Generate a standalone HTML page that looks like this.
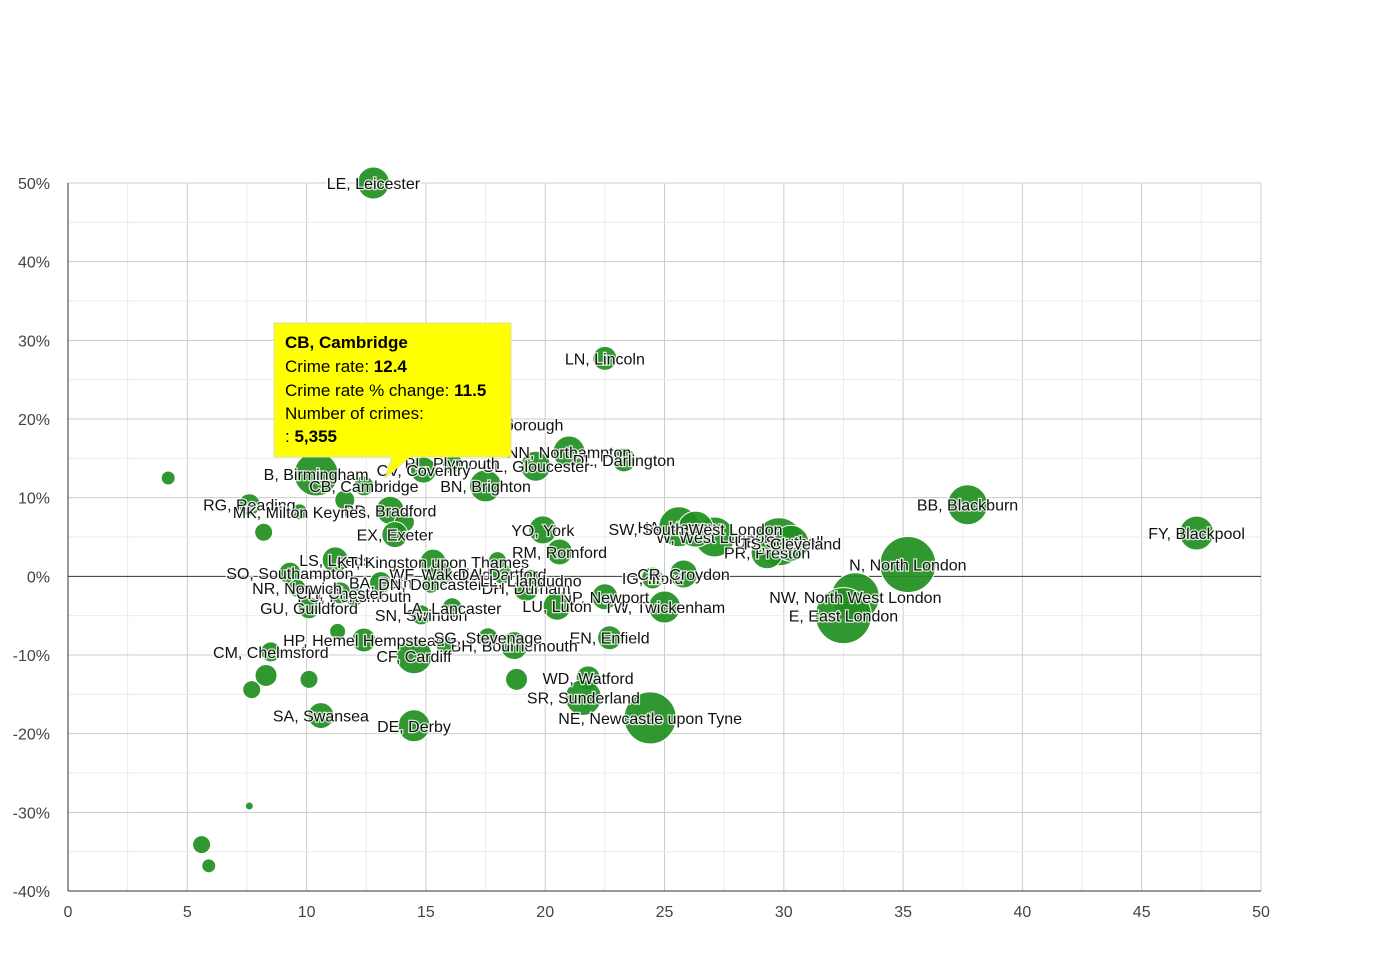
<!DOCTYPE html>
<html><head><meta charset="utf-8"><style>
html,body{margin:0;padding:0;background:#fff;}
svg{display:block;font-family:"Liberation Sans",Arial,sans-serif;}
</style></head><body>
<svg id="chart" width="1390" height="980" xmlns="http://www.w3.org/2000/svg">
<g id="grid"></g>
<g id="axes"></g>
<g id="bubbles"></g>
<g id="labels"></g>
<g id="tooltip">
<path d="M274,323 H511 V457 H410 L385,478 L392,457 H274 Z" fill="#ffff00" stroke="#e0e0a0" stroke-width="1"/>
<text x="285" y="348" font-size="17" font-weight="bold">CB, Cambridge</text>
<text x="285" y="372" font-size="17">Crime rate: <tspan font-weight="bold">12.4</tspan></text>
<text x="285" y="396" font-size="17">Crime rate % change: <tspan font-weight="bold">11.5</tspan></text>
<text x="285" y="419" font-size="17">Number of crimes:</text>
<text x="285" y="442" font-size="17">: <tspan font-weight="bold">5,355</tspan></text>
</g>
</svg>
<script>
const labels=["LE, Leicester","LN, Lincoln","PE, Peterborough","NN, Northampton","DL, Darlington","GL, Gloucester","BN, Brighton","PL, Plymouth","CV, Coventry","B, Birmingham","CB, Cambridge","RG, Reading","","BD, Bradford","MK, Milton Keynes","","","EX, Exeter","","YO, York","RM, Romford","HA, Harrow","W, West London","SW, South West London","UB, Southall","PR, Preston","N, North London","BB, Blackburn","FY, Blackpool","NW, North West London","E, East London","IG, Ilford","CR, Croydon","TW, Twickenham","NP, Newport","EN, Enfield","WD, Watford","SR, Sunderland","NE, Newcastle upon Tyne","","BH, Bournemouth","DE, Derby","SA, Swansea","CF, Cardiff","CM, Chelmsford","","","","","","","HP, Hemel Hempstead","","","SG, Stevenage","GU, Guildford","SO, Southampton","LS, Leeds","KT, Kingston upon Thames","SN, Swindon","LA, Lancaster","DH, Durham","LU, Luton","BA, Bath","WF, Wakefield","PO, Portsmouth","CH, Chester","DN, Doncaster","DA, Dartford","LL, Llandudno","","TS, Cleveland","NR, Norwich"];
const crimeRate=[12.8,22.5,18.1,21.0,23.3,19.6,17.5,16.1,14.9,10.4,12.4,7.6,4.2,13.5,9.7,11.6,14.1,13.7,8.2,19.9,20.6,25.6,27.1,26.3,29.8,29.3,35.2,37.7,47.3,33.0,32.5,24.5,25.8,25.0,22.5,22.7,21.8,21.6,24.4,18.8,18.7,14.5,10.6,14.5,8.5,8.3,7.7,10.1,7.6,5.6,5.9,12.4,11.3,15.8,17.6,10.1,9.3,11.2,15.3,14.8,16.1,19.2,20.5,13.1,15.6,12.0,11.4,15.2,18.2,19.4,18.0,30.3,9.6];
const pctChange=[50,27.7,19.3,15.8,14.8,14.0,11.5,14.4,13.5,13.0,11.5,9.1,12.5,8.4,8.2,9.7,6.9,5.3,5.6,5.9,3.1,6.3,5.0,6.0,4.4,3.0,1.5,9.1,5.5,-2.6,-5.0,-0.2,0.3,-3.9,-2.6,-7.8,-12.9,-15.4,-18.0,-13.1,-8.8,-19.0,-17.7,-10.1,-9.6,-12.6,-14.4,-13.1,-29.2,-34.1,-36.8,-8.1,-7.0,-8.7,-7.8,-4.0,0.4,2.1,1.8,-4.9,-4.0,-1.5,-3.8,-0.8,0.3,-2.5,-2.1,-1.0,0.3,-0.5,2.0,4.2,-1.5];
const crimes=[13700,7710,10490,13700,7710,12040,13700,5355,9040,25900,5355,6480,2620,10490,3430,5355,5355,9040,4330,10490,9040,21400,21400,17340,30840,13700,41950,21400,15460,30840,41950,6480,10490,13700,9040,7710,7710,17340,36200,6480,10490,13700,9040,17340,5355,6480,4330,4330,856,4330,2620,7710,3430,4330,5355,6480,6480,9040,9040,5355,5355,9040,10490,6480,7710,5355,6480,4330,5355,6480,4330,17340,4330];
const xTicks=[0,5,10,15,20,25,30,35,40,45,50];
const yTicks=[50,40,30,20,10,0,-10,-20,-30,-40];
const NS="http://www.w3.org/2000/svg";
const X0=68,X1=1261,Y0=183,Y1=891;
const xs=v=>X0+(v-0)/(50-0)*(X1-X0);
const ys=v=>Y1-(v+40)/(90)*(Y1-Y0);
const rs=c=>Math.sqrt(c)*10/Math.sqrt(5355);
function mk(tag,attrs,parent){const e=document.createElementNS(NS,tag);for(const k in attrs)e.setAttribute(k,attrs[k]);parent.appendChild(e);return e;}
const grid=document.getElementById('grid'),axes=document.getElementById('axes');
for(let v=2.5;v<=50;v+=2.5){const major=v%5===0;const l=mk('line',{x1:xs(v),x2:xs(v),y1:Y0,y2:Y1,stroke:major?'#cccccc':'#ebebeb','stroke-width':1},grid);

}
for(let v=-35;v<=50;v+=5){const major=v%10===0;const col=v===0?'#333':(major?'#cccccc':'#ebebeb');const l=mk('line',{x1:X0,x2:X1,y1:ys(v),y2:ys(v),stroke:col,'stroke-width':1},grid);

}
const ax=mk('line',{x1:X0,x2:X0,y1:Y0,y2:Y1,stroke:'#333'},axes);


const bx=mk('line',{x1:X0,x2:X1,y1:Y1,y2:Y1,stroke:'#333'},axes);


xTicks.forEach(t=>{const e=mk('text',{x:xs(t),y:917,'text-anchor':'middle','font-size':16,fill:'#444'},axes);e.textContent=t;

});
yTicks.forEach(t=>{const e=mk('text',{x:50,y:ys(t)+6,'text-anchor':'end','font-size':16,fill:'#444'},axes);e.textContent=t+'%';

});
const bg=document.getElementById('bubbles'),lg=document.getElementById('labels');
crimeRate.forEach((v,i)=>{const c=mk('circle',{cx:xs(v),cy:ys(pctChange[i]),r:rs(crimes[i]),fill:'#1f8f1f','fill-opacity':0.92,stroke:'#ffffff','stroke-width':1},bg);


if(labels[i]){const t=mk('text',{x:xs(v),y:ys(pctChange[i])+6,'text-anchor':'middle','font-size':16,fill:'#111',stroke:'#fff','stroke-width':2.5,'paint-order':'stroke','stroke-opacity':0.8},lg);t.textContent=labels[i];

}});
const svg=document.getElementById('chart');
svg.appendChild(document.getElementById('tooltip'));
</script>
</body></html>
